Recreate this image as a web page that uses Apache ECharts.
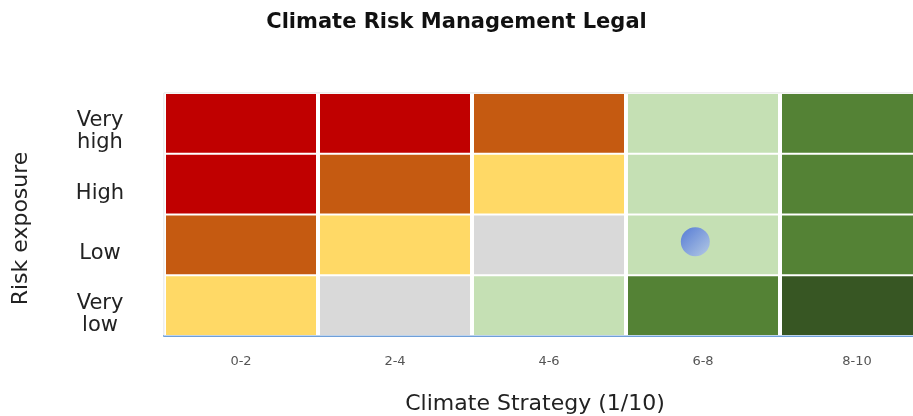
<!DOCTYPE html>
<html>
<head>
<meta charset="utf-8">
<script src="https://cdn.jsdelivr.net/npm/echarts@6/dist/echarts.min.js"></script>
<style>
  html, body { margin: 0; padding: 0; background: #fff; }
  #main { width: 913px; height: 416px; }
</style>
</head>
<body>
<div id="main"></div>
<script>
// strategy buckets along x, risk levels bottom to top
const strategyBands = ['0-2', '2-4', '4-6', '6-8', '8-10'];
const riskLevels = ['Very\nlow', 'Low', 'High', 'Very\nhigh'];

// colour level of each cell, rows from "Very low" up to "Very high"
// 0 dark red, 1 orange, 2 yellow, 3 grey, 4 light green, 5 green, 6 dark green
const levelVeryLow  = [2, 3, 4, 5, 6];
const levelLow      = [1, 2, 3, 4, 5];
const levelHigh     = [0, 1, 2, 4, 5];
const levelVeryHigh = [0, 0, 1, 4, 5];

const palette = ['#c00000', '#c55a11', '#ffd966', '#d9d9d9', '#c5e0b4', '#548235', '#375623'];

// company position: strategy score (0-10), risk (0-4 scale, rows as units)
const companyPoint = [6.9, 1.55];

const rows = [levelVeryLow, levelLow, levelHigh, levelVeryHigh];
const cells = [];
rows.forEach((row, y) => row.forEach((v, x) => cells.push([x, y, v])));

const chart = echarts.init(document.getElementById('main'));

chart.setOption({
  animation: false,
  title: {
    text: 'Climate Risk Management Legal',
    left: 'center',
    top: 7,
    textStyle: { fontFamily: 'DejaVu Sans', fontWeight: 'bold', fontSize: 21, color: '#111' }
  },
  grid: {
    left: 164, width: 770, top: 93, height: 243,
    outerBoundsMode: 'none', containLabel: false,
    show: true, borderColor: '#dcdcdc', borderWidth: 1
  },
  xAxis: [{
    type: 'category',
    data: strategyBands,
    name: 'Climate Strategy (1/10)',
    nameLocation: 'middle',
    nameGap: 57,
    nameTextStyle: { fontFamily: 'DejaVu Sans', fontSize: 22, color: '#222', padding: [0, 28, 0, 0] },
    axisLine: { lineStyle: { color: '#6f9fd8', width: 2 } },
    axisTick: { show: false },
    axisLabel: { fontFamily: 'DejaVu Sans', fontSize: 13, color: '#555', margin: 19 },
    splitLine: { show: false }
  }, {
    type: 'value', min: 0, max: 10, show: false
  }],
  yAxis: [{
    type: 'category',
    data: riskLevels,
    name: 'Risk exposure',
    nameLocation: 'middle',
    nameGap: 132,
    nameRotate: 90,
    nameTextStyle: { fontFamily: 'DejaVu Sans', fontSize: 22, color: '#222', padding: [0, 28, 0, 0] },
    axisLine: { show: false },
    axisTick: { show: false },
    axisLabel: {
      color: '#222', align: 'center', margin: 64,
      formatter: function (v) {
        return v.split('\n').map((line, i) => (i === 0 ? '{a|' : '{b|') + line + '}').join('\n');
      },
      rich: {
        a: { fontFamily: 'DejaVu Sans', fontSize: 21, color: '#222', lineHeight: 39, verticalAlign: 'bottom' },
        b: { fontFamily: 'DejaVu Sans', fontSize: 21, color: '#222', lineHeight: 23 }
      }
    },
    splitLine: { show: false }
  }, {
    type: 'value', min: 0, max: 4, show: false
  }],
  visualMap: {
    type: 'piecewise',
    show: false,
    dimension: 2,
    seriesIndex: 0,
    pieces: palette.map((c, i) => ({ value: i, color: c }))
  },
  series: [{
    type: 'custom',
    xAxisIndex: 0,
    yAxisIndex: 0,
    data: cells,
    renderItem: function (params, api) {
      const p = api.coord([api.value(0), api.value(1)]);
      const s = api.size([1, 1]);
      return {
        type: 'group',
        children: [{
          type: 'rect',
          shape: { x: p[0] - s[0] / 2, y: p[1] - s[1] / 2, width: s[0], height: s[1] },
          style: { fill: 'rgba(255,255,255,0.55)' }
        }, {
          type: 'rect',
          shape: { x: p[0] - s[0] / 2 + 2, y: p[1] - s[1] / 2 + 1, width: s[0] - 4, height: s[1] - 2 },
          style: { fill: api.visual('color') }
        }]
      };
    }
  }, {
    type: 'scatter',
    xAxisIndex: 1,
    yAxisIndex: 1,
    data: [companyPoint],
    symbolSize: 29,
    itemStyle: {
      color: new echarts.graphic.LinearGradient(0, 0, 1, 1, [
        { offset: 0, color: '#3a62de' },
        { offset: 1, color: '#b0c4f0' }
      ])
    },
    z: 5
  }]
});
</script>
</body>
</html>
